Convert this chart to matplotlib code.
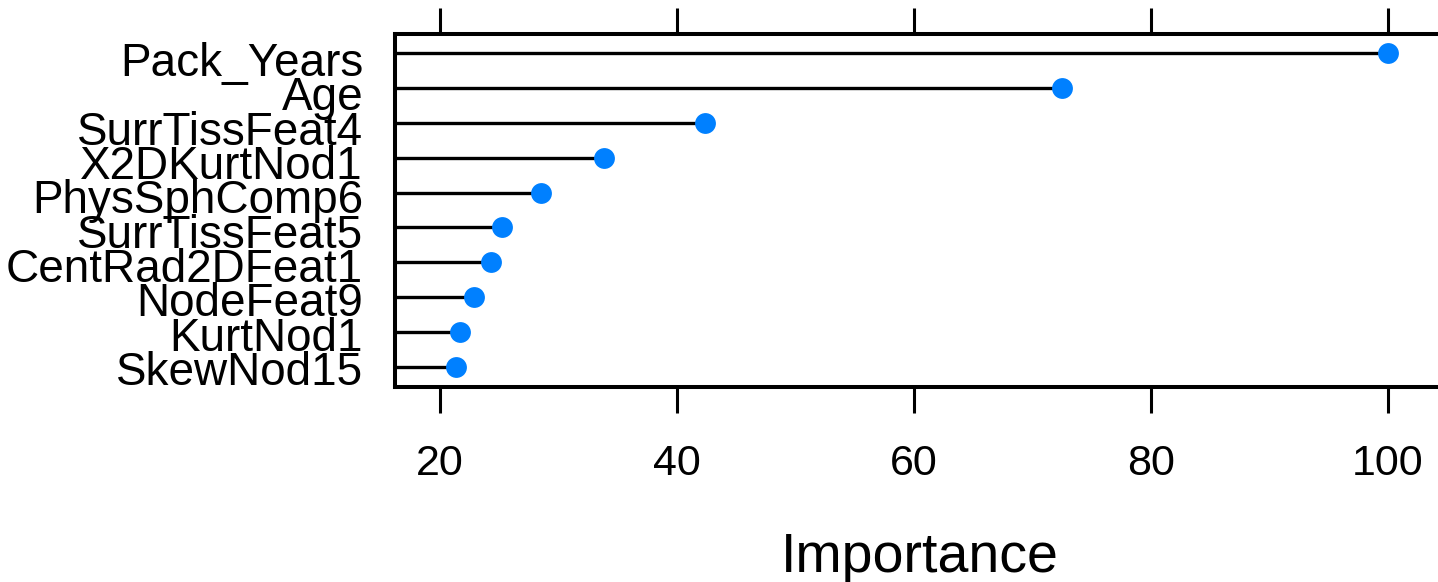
import matplotlib
matplotlib.use("Agg")
import matplotlib.pyplot as plt
import matplotlib.transforms as mtransforms

features = ["SkewNod15", "KurtNod1", "NodeFeat9", "CentRad2DFeat1", "SurrTissFeat5",
            "PhysSphComp6", "X2DKurtNod1", "SurrTissFeat4", "Age", "Pack_Years"]
importance = [21.35, 21.7, 22.9, 24.3, 25.2, 28.5, 33.8, 42.4, 72.5, 100.0]
xticks = [20, 40, 60, 80, 100]

plt.rcParams['font.family'] = ['Liberation Sans', 'DejaVu Sans']

W, H = 1438, 582
fig = plt.figure(figsize=(W / 100, H / 100), dpi=100)

# pixel geometry of the panel
px_left, px_right, px_top, px_bot = 395, 1450, 34, 387
ax = fig.add_axes([px_left / W, 1 - px_bot / H, (px_right - px_left) / W, (px_bot - px_top) / H])

ppu = (1388 - 440) / 80.0
def x_at(px):
    return 20 + (px - 440) / ppu

xmin, xmax = x_at(px_left), x_at(px_right)
ax.set_xlim(xmin, xmax)
row_top_px, row_bot_px = 53, 367
rpu = (row_bot_px - row_top_px) / 9.0
ax.set_ylim(1 - (px_bot - row_bot_px) / rpu, 10 + (row_top_px - px_top) / rpu)

ypos = list(range(1, len(features) + 1))
ax.hlines(ypos, xmin, importance, color="black", linewidth=2.4, zorder=2)
ax.plot(importance, ypos, "o", color="#0080FF", markersize=15, markeredgewidth=0, zorder=3)

ax.set_yticks(ypos)
ax.set_yticklabels(features, fontsize=33)
ax.tick_params(axis="y", length=0, pad=23)
n = len(features)
for i, lab in enumerate(ax.get_yticklabels()):
    dy = -(1 + 5 * i / (n - 1)) / 100.0
    lab.set_transform(lab.get_transform() + mtransforms.ScaledTranslation(0, dy, fig.dpi_scale_trans))

ax.set_xticks(xticks)
ax.set_xticklabels([str(t) for t in xticks], fontsize=31)
ax.tick_params(axis="x", which="both", direction="out", length=19, width=2.2,
               top=True, bottom=True, labeltop=False, labelbottom=True, pad=22)

for s in ax.spines.values():
    s.set_linewidth(2.9)

fig.text(920 / W, 1 - 572 / H, "Importance", fontsize=40, ha="center", va="baseline")

fig.savefig("out.png", dpi=100)
